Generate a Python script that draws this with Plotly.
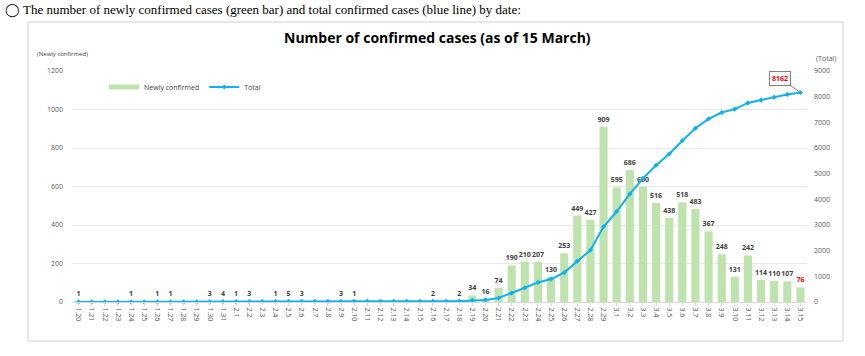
import plotly.graph_objects as go

dates = ["1.20","1.21","1.22","1.23","1.24","1.25","1.26","1.27","1.28","1.29","1.30","1.31",
         "2.1","2.2","2.3","2.4","2.5","2.6","2.7","2.8","2.9","2.10","2.11","2.12","2.13","2.14",
         "2.15","2.16","2.17","2.18","2.19","2.20","2.21","2.22","2.23","2.24","2.25","2.26","2.27",
         "2.28","2.29","3.1","3.2","3.3","3.4","3.5","3.6","3.7","3.8","3.9","3.10","3.11","3.12",
         "3.13","3.14","3.15"]

new_cases = [1,0,0,0,1,0,1,1,0,0,3,4,
             1,3,0,1,5,3,0,0,3,1,0,0,0,0,
             0,2,0,2,34,16,74,190,210,207,130,253,449,
             427,909,595,686,600,516,438,518,483,367,248,131,242,114,
             110,107,76]

total_cases = [1,1,1,1,2,2,3,4,4,4,7,11,
               12,15,15,16,21,24,24,24,27,28,28,28,28,28,
               28,30,30,32,66,82,156,346,556,763,893,1146,1595,
               2022,2931,3526,4212,4812,5328,5766,6284,6767,7134,7382,7513,7755,7869,
               7979,8086,8162]

W, H = 865, 356
L, R, T, B = 72, 58, 71, 54
pw, ph = W - L - R, H - T - B

def px(x):
    return (x - L) / pw

def py(y):
    return (H - B - y) / ph

bar_text = ["<b>%d</b>" % v if v > 0 else "" for v in new_cases]
bar_text_colors = ["#404040"] * (len(new_cases) - 1) + ["#ff0000"]

GREEN = "#bfe3ad"
BLUE = "#12b0f0"

fig = go.Figure()
fig.add_trace(go.Bar(
    x=dates, y=new_cases, name="Newly confirmed", showlegend=False,
    marker=dict(color=GREEN, line=dict(width=0)),
    text=bar_text, textposition="outside", constraintext="none",
    textfont=dict(size=7, color=bar_text_colors, family="Open Sans"),
    cliponaxis=False,
))
# legend swatch for the bars (wide flat bar as in the original legend)
fig.add_trace(go.Scatter(
    x=[None], y=[None], name="Newly confirmed", mode="lines",
    line=dict(color=GREEN, width=5),
))
fig.add_trace(go.Scatter(
    x=dates, y=total_cases, name="Total", yaxis="y2",
    mode="lines+markers",
    line=dict(color=BLUE, width=2),
    marker=dict(symbol="diamond", size=4, color=BLUE),
    cliponaxis=False,
))

fig.update_layout(
    width=W, height=H,
    margin=dict(l=L, r=R, t=T, b=B, autoexpand=False),
    paper_bgcolor="white", plot_bgcolor="white",
    font=dict(family="Open Sans", size=7, color="#595959"),
    bargap=0.38,
    showlegend=True,
    legend=dict(orientation="h", x=px(104), y=py(87), xanchor="left", yanchor="middle",
                font=dict(size=7, color="#404040"), bgcolor="rgba(0,0,0,0)",
                itemwidth=30, tracegroupgap=0),
    xaxis=dict(type="category", range=[-0.5, len(dates) - 0.5], autorange=False,
               tickangle=90, tickfont=dict(size=7, color="#595959"),
               showline=True, linecolor="#d9d9d9", ticks="outside", ticklen=3,
               tickcolor="#d9d9d9", showgrid=False),
    yaxis=dict(range=[0, 1200], dtick=200, showgrid=True, gridcolor="#e8e8e8",
               zeroline=False, tickfont=dict(size=7, color="#595959"), ticklabelstandoff=8),
    yaxis2=dict(range=[0, 9000], dtick=1000, overlaying="y", side="right", showgrid=False,
                zeroline=False, tickfont=dict(size=7, color="#595959"), ticklabelstandoff=6),
    shapes=[dict(type="rect", xref="paper", yref="paper",
                 x0=px(28), x1=px(843), y0=py(341), y1=py(22),
                 line=dict(color="#d0d0d0", width=1), fillcolor="rgba(0,0,0,0)", layer="below")],
)

fig.add_annotation(xref="paper", yref="paper", x=px(3), y=py(10), xanchor="left", yanchor="middle",
                   text="\u25ef The number of newly confirmed cases (green bar) and total confirmed cases (blue line) by date:",
                   showarrow=False, font=dict(family="Liberation Serif", size=13, color="#000000"))
fig.add_annotation(xref="paper", yref="paper", x=px(437), y=py(37), xanchor="center", yanchor="middle",
                   text="<b>Number of confirmed cases (as of 15 March)</b>",
                   showarrow=False, font=dict(family="Open Sans", size=14, color="#000000"))
fig.add_annotation(xref="paper", yref="paper", x=px(35), y=py(54), xanchor="left", yanchor="middle",
                   text="(Newly confirmed)", showarrow=False, font=dict(size=6, color="#404040"))
fig.add_annotation(xref="paper", yref="paper", x=px(814), y=py(58), xanchor="left", yanchor="middle",
                   text="(Total)", showarrow=False, font=dict(size=7, color="#595959"))
fig.add_annotation(x=len(dates) - 1, y=total_cases[-1], xref="x", yref="y2",
                   text="<b>%d</b>" % total_cases[-1], showarrow=True, arrowhead=0,
                   arrowcolor="#808080", arrowwidth=1, ax=-20, ay=-14,
                   font=dict(size=7, color="#ff0000"), bgcolor="white",
                   bordercolor="#808080", borderwidth=1, borderpad=2)

fig.write_html("out.html", config={"displayModeBar": False},
               post_script="document.body.style.margin='0';")
